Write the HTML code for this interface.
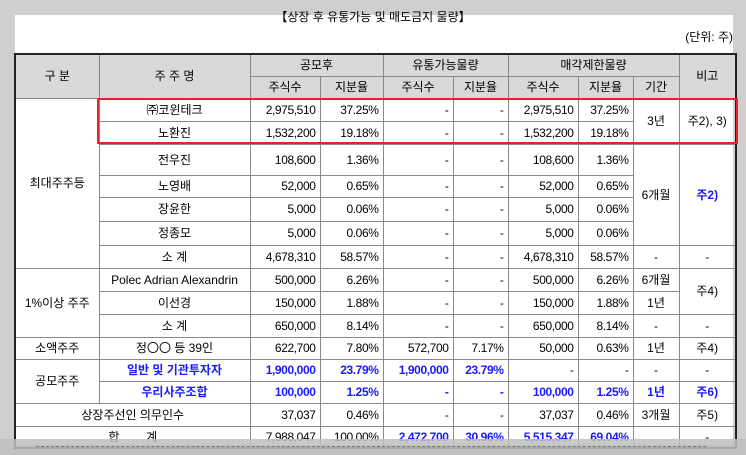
<!DOCTYPE html>
<html><head><meta charset="utf-8"><style>
html,body{margin:0;padding:0}
body{width:746px;height:455px;background:#cfcfcf;position:relative;overflow:hidden;font-family:"Liberation Sans","Noto Sans CJK KR",sans-serif;font-size:12px;color:#000}
#paper{position:absolute;left:15px;top:15px;width:718px;height:430px;background:#fff}
#title{position:absolute;left:0;width:746px;top:8px;text-align:center;font-size:12px}
#unit{position:absolute;right:13px;top:28px;font-size:12px}
table{position:absolute;left:14px;top:53px;border-collapse:collapse;table-layout:fixed;border:2px solid #222}
td{border:1px solid #888;padding:0 4px;text-align:center;white-space:nowrap;overflow:hidden;line-height:14px}
td.r{text-align:right;letter-spacing:-0.4px}
.h td,td.h{background:#d9d9d9}
.b{color:#1a1aff;font-weight:bold}
tr.sep td{border-top:1px solid #333}
#red{position:absolute;left:97px;top:98px;width:637px;height:42px;border:2px solid #e8202a}
#shade{position:absolute;left:0;top:439px;width:746px;height:16px;background:rgba(190,190,190,0.85)}
#shade2{position:absolute;left:36px;top:446px;width:670px;height:2px;border-top:1px dashed #777}
</style></head><body>
<div id="paper"></div>
<div id="title">【상장 후 유통가능 및 매도금지 물량】</div>
<div id="unit">(단위: 주)</div>
<table>
<colgroup><col style="width:84px"><col style="width:151px"><col style="width:70px"><col style="width:63px"><col style="width:70px"><col style="width:55px"><col style="width:70px"><col style="width:55px"><col style="width:46px"><col style="width:57px"></colgroup>
<tr class="h" style="height:22px"><td rowspan="2">구 분</td><td rowspan="2">주 주 명</td><td colspan="2">공모후</td><td colspan="2">유통가능물량</td><td colspan="3">매각제한물량</td><td rowspan="2">비고</td></tr>
<tr class="h" style="height:22px"><td>주식수</td><td>지분율</td><td>주식수</td><td>지분율</td><td>주식수</td><td>지분율</td><td>기간</td></tr>
<tr style="height:23px"><td rowspan="7">최대주주등</td><td>㈜코윈테크</td><td class="r">2,975,510</td><td class="r">37.25%</td><td class="r">-</td><td class="r">-</td><td class="r">2,975,510</td><td class="r">37.25%</td><td rowspan="2">3년</td><td rowspan="2">주2), 3)</td></tr>
<tr style="height:23px"><td>노환진</td><td class="r">1,532,200</td><td class="r">19.18%</td><td class="r">-</td><td class="r">-</td><td class="r">1,532,200</td><td class="r">19.18%</td></tr>
<tr style="height:31px"><td>전우진</td><td class="r">108,600</td><td class="r">1.36%</td><td class="r">-</td><td class="r">-</td><td class="r">108,600</td><td class="r">1.36%</td><td rowspan="4">6개월</td><td rowspan="4" class="b">주2)</td></tr>
<tr style="height:22px"><td>노영배</td><td class="r">52,000</td><td class="r">0.65%</td><td class="r">-</td><td class="r">-</td><td class="r">52,000</td><td class="r">0.65%</td></tr>
<tr style="height:24px"><td>장윤한</td><td class="r">5,000</td><td class="r">0.06%</td><td class="r">-</td><td class="r">-</td><td class="r">5,000</td><td class="r">0.06%</td></tr>
<tr style="height:24px"><td>정종모</td><td class="r">5,000</td><td class="r">0.06%</td><td class="r">-</td><td class="r">-</td><td class="r">5,000</td><td class="r">0.06%</td></tr>
<tr style="height:23px"><td>소 계</td><td class="r">4,678,310</td><td class="r">58.57%</td><td class="r">-</td><td class="r">-</td><td class="r">4,678,310</td><td class="r">58.57%</td><td>-</td><td>-</td></tr>
<tr class="sep" style="height:23px"><td rowspan="3">1%이상 주주</td><td>Polec Adrian Alexandrin</td><td class="r">500,000</td><td class="r">6.26%</td><td class="r">-</td><td class="r">-</td><td class="r">500,000</td><td class="r">6.26%</td><td>6개월</td><td rowspan="2">주4)</td></tr>
<tr style="height:23px"><td>이선경</td><td class="r">150,000</td><td class="r">1.88%</td><td class="r">-</td><td class="r">-</td><td class="r">150,000</td><td class="r">1.88%</td><td>1년</td></tr>
<tr style="height:23px"><td>소 계</td><td class="r">650,000</td><td class="r">8.14%</td><td class="r">-</td><td class="r">-</td><td class="r">650,000</td><td class="r">8.14%</td><td>-</td><td>-</td></tr>
<tr class="sep" style="height:22px"><td>소액주주</td><td>정〇〇 등 39인</td><td class="r">622,700</td><td class="r">7.80%</td><td class="r">572,700</td><td class="r">7.17%</td><td class="r">50,000</td><td class="r">0.63%</td><td>1년</td><td>주4)</td></tr>
<tr style="height:22px"><td rowspan="2">공모주주</td><td class="b">일반 및 기관투자자</td><td class="r b">1,900,000</td><td class="r b">23.79%</td><td class="r b">1,900,000</td><td class="r b">23.79%</td><td class="r">-</td><td class="r">-</td><td>-</td><td>-</td></tr>
<tr style="height:22px"><td class="b">우리사주조합</td><td class="r b">100,000</td><td class="r b">1.25%</td><td class="r b">-</td><td class="r b">-</td><td class="r b">100,000</td><td class="r b">1.25%</td><td class="b">1년</td><td class="b">주6)</td></tr>
<tr class="sep" style="height:23px"><td colspan="2">상장주선인 의무인수</td><td class="r">37,037</td><td class="r">0.46%</td><td class="r">-</td><td class="r">-</td><td class="r">37,037</td><td class="r">0.46%</td><td>3개월</td><td>주5)</td></tr>
<tr style="height:22px"><td colspan="2">합 &nbsp;&nbsp;&nbsp;&nbsp;&nbsp;&nbsp; 계</td><td class="r">7,988,047</td><td class="r">100.00%</td><td class="r b">2,472,700</td><td class="r b">30.96%</td><td class="r b">5,515,347</td><td class="r b">69.04%</td><td></td><td>-</td></tr>
</table>
<div id="red"></div>
<div id="shade"></div>
<div id="shade2"></div>
</body></html>
